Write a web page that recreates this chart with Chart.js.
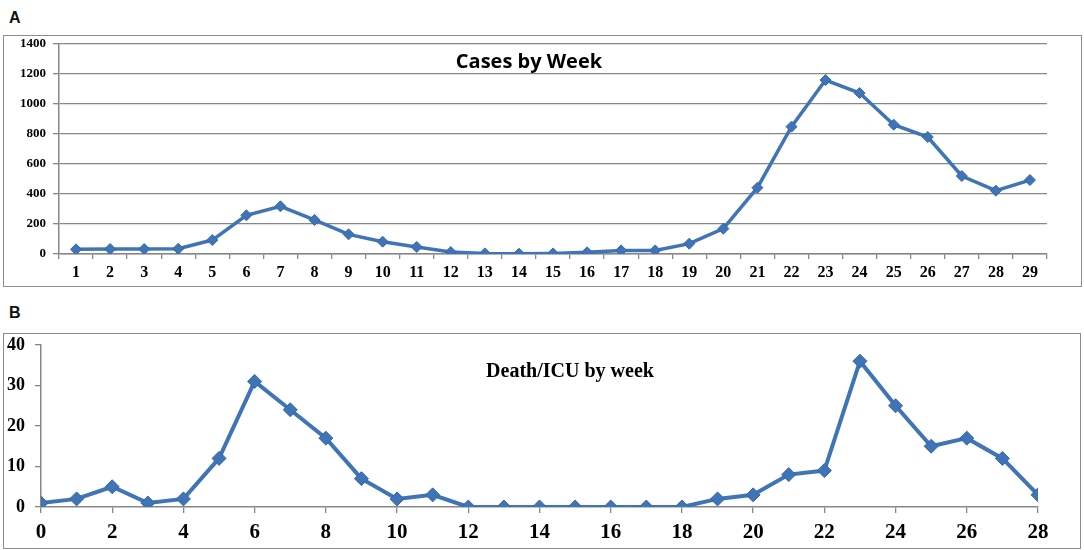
<!DOCTYPE html>
<html>
<head>
<meta charset="utf-8">
<script src="https://cdn.jsdelivr.net/npm/chart.js@4.4.0/dist/chart.umd.min.js"></script>
<style>
  html,body{margin:0;padding:0;background:#fff;width:1084px;height:550px;overflow:hidden;position:relative;}
  .box{position:absolute;border:1.5px solid #8c8c8c;box-sizing:border-box;}
  .lbl{position:absolute;font-family:"Liberation Sans",Arial,sans-serif;font-weight:bold;font-size:16px;color:#111;}
  canvas{position:absolute;left:0;}
  .title{position:absolute;color:#000;white-space:nowrap;transform:translateX(-50%);}
</style>
</head>
<body>
<div class="lbl" style="left:9px;top:9px;">A</div>
<div class="box" style="left:3px;top:35px;width:1079px;height:252px;"></div>
<div class="lbl" style="left:9px;top:304px;">B</div>
<div class="box" style="left:3px;top:333px;width:1078px;height:216px;"></div>
<canvas id="cA" width="1084" height="290" style="top:0px;"></canvas>
<canvas id="cB" width="1084" height="260" style="top:290px;"></canvas>
<div class="title" style="left:529px;top:47px;font-family:'Open Sans','Liberation Sans',sans-serif;font-weight:700;font-size:20px;">Cases by Week</div>
<div class="title" style="left:570px;top:359px;font-family:'Liberation Serif','Times New Roman',serif;font-weight:bold;font-size:20px;">Death/ICU by week</div>
<script>
// ---- Data ----
const weeksA = ['1','2','3','4','5','6','7','8','9','10','11','12','13','14','15','16','17','18','19','20','21','22','23','24','25','26','27','28','29'];
const casesA = [31,33,33,35,93,258,318,227,131,82,47,13,4,2,4,11,24,24,69,169,442,849,1160,1073,862,780,520,422,493];
const yTicksA = [0,200,400,600,800,1000,1200,1400];

const weeksB = [0,1,2,3,4,5,6,7,8,9,10,11,12,13,14,15,16,17,18,19,20,21,22,23,24,25,26,27,28];
const deathsB = [1,2,5,1,2,12,31,24,17,7,2,3,0,0,0,0,0,0,0,2,3,8,9,36,25,15,17,12,3];
const yTicksB = [0,10,20,30,40];
const xTicksB = [0,2,4,6,8,10,12,14,16,18,20,22,24,26,28];

const blue = '#3f74b6';
const gray = '#878787';
const serif = "'Liberation Serif','Times New Roman',serif";
const plain = v => String(v);

new Chart(document.getElementById('cA'), {
  type: 'line',
  data: {
    labels: weeksA,
    datasets: [{
      data: casesA,
      borderColor: blue,
      backgroundColor: blue,
      borderWidth: 3.5,
      pointStyle: 'rectRot',
      pointRadius: 5.5,
      pointBorderWidth: 1,
      pointBorderColor: '#3568a8',
      tension: 0
    }]
  },
  options: {
    responsive: false,
    animation: false,
    layout: { padding: { top: 44, right: 37, left: 0, bottom: 0 } },
    plugins: { legend: { display: false }, tooltip: { enabled: false } },
    scales: {
      x: {
        type: 'category',
        offset: true,
        afterFit: s => { s.height = 36; },
        grid: { offset: true, drawOnChartArea: false, drawTicks: true, tickLength: 5, color: gray, lineWidth: 1.3 },
        border: { color: gray, width: 1.5 },
        ticks: { color: '#000', padding: 4, maxRotation: 0, autoSkip: false, font: { family: serif, weight: 'bold', size: 16 } }
      },
      y: {
        min: 0, max: 1400,
        afterFit: s => { s.width = 59; },
        afterBuildTicks: s => { s.ticks = yTicksA.map(v => ({ value: v })); },
        grid: { color: gray, lineWidth: 1.3, drawTicks: true, tickLength: 6, tickColor: gray },
        border: { color: gray, width: 1.5 },
        ticks: { color: '#000', padding: 7, callback: plain, font: { family: serif, weight: 'bold', size: 13 } }
      }
    }
  }
});

new Chart(document.getElementById('cB'), {
  type: 'line',
  data: {
    datasets: [{
      data: weeksB.map((w, i) => ({ x: w, y: deathsB[i] })),
      borderColor: blue,
      backgroundColor: blue,
      borderWidth: 4,
      pointStyle: 'rectRot',
      pointRadius: 7,
      pointBorderWidth: 1,
      pointBorderColor: '#3568a8',
      tension: 0
    }]
  },
  options: {
    responsive: false,
    animation: false,
    layout: { padding: { top: 55, right: 46, left: 0, bottom: 0 } },
    plugins: { legend: { display: false }, tooltip: { enabled: false } },
    scales: {
      x: {
        type: 'linear',
        min: 0, max: 28,
        afterFit: s => { s.height = 43; },
        afterBuildTicks: s => { s.ticks = xTicksB.map(v => ({ value: v })); },
        grid: { drawOnChartArea: false, drawTicks: true, tickLength: 6, color: gray, lineWidth: 1.3 },
        border: { color: gray, width: 1.5 },
        ticks: { color: '#000', padding: 7, maxRotation: 0, callback: plain, font: { family: serif, weight: 'bold', size: 21 } }
      },
      y: {
        min: 0, max: 40,
        afterFit: s => { s.width = 41; },
        afterBuildTicks: s => { s.ticks = yTicksB.map(v => ({ value: v })); },
        grid: { drawOnChartArea: false, drawTicks: true, tickLength: 6, color: gray, lineWidth: 1.3 },
        border: { color: gray, width: 1.5 },
        ticks: { color: '#000', padding: 10, callback: plain, font: { family: serif, weight: 'bold', size: 18 } }
      }
    }
  }
});
</script>
</body>
</html>
